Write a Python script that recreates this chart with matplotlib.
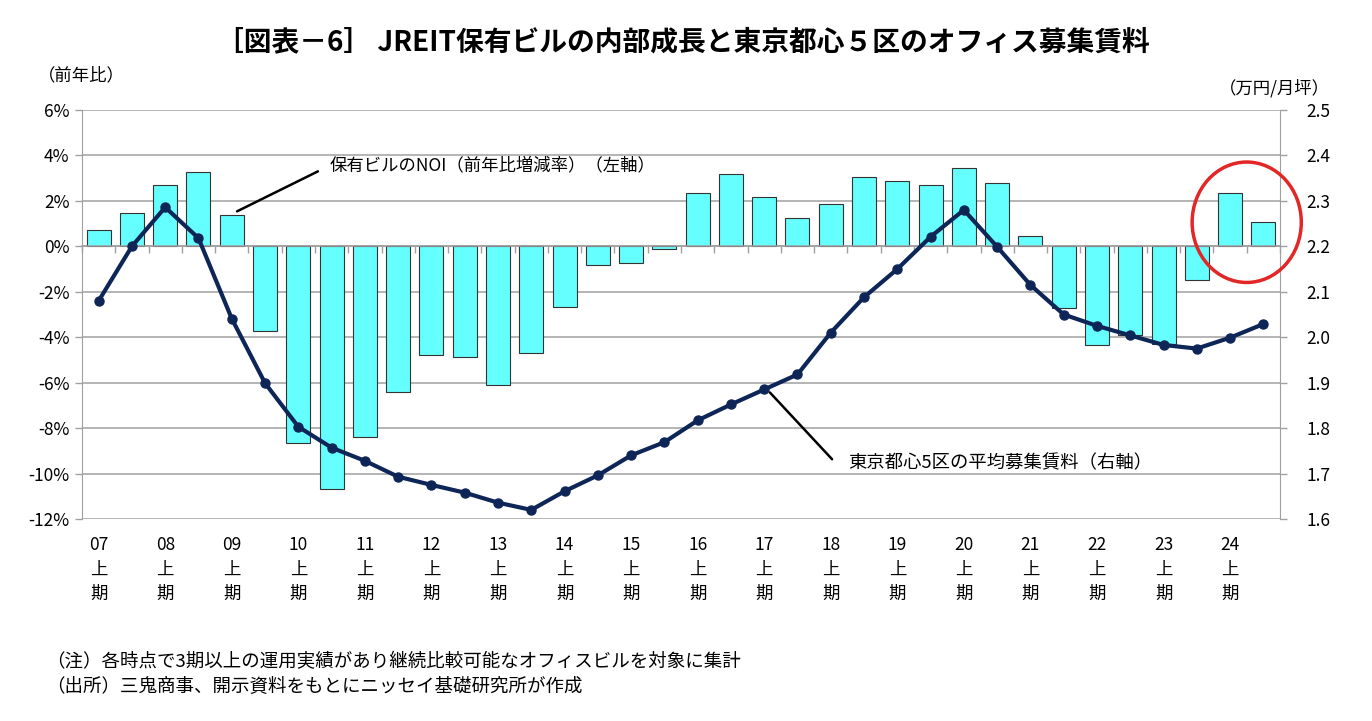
import numpy as np
import matplotlib
matplotlib.use("Agg")
import matplotlib.pyplot as plt
from matplotlib.patches import Ellipse
from matplotlib.transforms import blended_transform_factory

plt.rcParams['font.family'] = ['Noto Sans CJK JP', 'DejaVu Sans']

# Data
years = ["07", "08", "09", "10", "11", "12", "13", "14", "15",
         "16", "17", "18", "19", "20", "21", "22", "23", "24"]
halves = ["上", "下"]
periods = [y + h for y in years for h in halves]

# NOI growth of JREIT-held buildings, % YoY (left axis)
noi_growth = [0.7, 1.45, 2.7, 3.26, 1.37, -3.74, -8.65, -10.7, -8.4, -6.4,
              -4.8, -4.87, -6.1, -4.68, -2.65, -0.8, -0.75, -0.1, 2.33, 3.2,
              2.17, 1.26, 1.85, 3.04, 2.88, 2.68, 3.43, 2.77, 0.45, -2.7,
              -4.35, -3.9, -4.3, -1.48, 2.34, 1.06]

# Average asking rent, Tokyo 5 central wards, 10k yen / tsubo (right axis)
rent = [2.080, 2.200, 2.286, 2.218, 2.041, 1.899, 1.803, 1.757, 1.728, 1.693,
        1.675, 1.658, 1.636, 1.620, 1.661, 1.696, 1.740, 1.769, 1.817, 1.852,
        1.885, 1.918, 2.010, 2.088, 2.150, 2.221, 2.280, 2.199, 2.115, 2.050,
        2.025, 2.004, 1.983, 1.975, 1.999, 2.029]

left_ticks = [6, 4, 2, 0, -2, -4, -6, -8, -10, -12]
right_ticks = [2.5, 2.4, 2.3, 2.2, 2.1, 2.0, 1.9, 1.8, 1.7, 1.6]

title = "［図表－6］ JREIT保有ビルの内部成長と東京都心５区のオフィス募集賃料"
note1 = "（注）各時点で3期以上の運用実績があり継続比較可能なオフィスビルを対象に集計"
note2 = "（出所）三鬼商事、開示資料をもとにニッセイ基礎研究所が作成"

W, H = 1372, 721
grey = "#A0A0A0"

fig = plt.figure(figsize=(W / 100, H / 100), dpi=100)
fig.patch.set_facecolor("white")
ax = fig.add_axes([82 / W, 1 - 519 / H, (1280 - 82) / W, (519 - 110) / H])

x = np.arange(len(periods))
ax.bar(x, noi_growth, width=0.72, color="#66FFFF", edgecolor="#333333",
       linewidth=0.8, zorder=2)
ax.set_xlim(-0.5, len(periods) - 0.5)
ax.set_ylim(min(left_ticks), max(left_ticks))
ax.set_yticks(left_ticks)
ax.set_yticklabels([f"{v}%" for v in left_ticks], fontsize=12.5)
ax.grid(axis="y", color=grey, linewidth=1.1, zorder=0)
ax.set_axisbelow(True)

# category axis crosses at 0, ticks between categories
ax.set_xticks(np.arange(-0.5, len(periods), 1))
ax.set_xticklabels([])
ax.spines["bottom"].set_position(("data", 0))
ax.spines["bottom"].set_color(grey)
ax.spines["bottom"].set_linewidth(1.1)
ax.spines["top"].set_visible(False)
ax.spines["right"].set_visible(False)
ax.spines["left"].set_color(grey)
ax.tick_params(axis="x", direction="out", length=5, color=grey, width=1)
ax.tick_params(axis="y", direction="out", length=5, color=grey, width=1,
               pad=4, labelcolor="black")

ax2 = ax.twinx()
ax2.plot(x, rent, color="#0E2657", linewidth=3, marker="o", markersize=6.5,
         zorder=3)
ax2.set_ylim(min(right_ticks), max(right_ticks))
ax2.set_yticks(right_ticks)
ax2.set_yticklabels([f"{v:.1f}" for v in right_ticks], fontsize=12.5)
for s in ["top", "left", "bottom"]:
    ax2.spines[s].set_visible(False)
ax2.spines["right"].set_color(grey)
ax2.tick_params(axis="y", direction="out", length=5, color=grey, width=1,
                pad=14, labelcolor="black")

# x labels: year / 上 / 期 stacked, only for first halves
trans = blended_transform_factory(ax.transData, fig.transFigure)
for i, p in enumerate(periods):
    if p.endswith("上"):
        ax.text(i, 1 - 545 / H, p[:2], transform=trans, ha="center",
                va="center", fontsize=12.5)
        ax.text(i, 1 - 570 / H, "上", transform=trans, ha="center",
                va="center", fontsize=12.5)
        ax.text(i, 1 - 594 / H, "期", transform=trans, ha="center",
                va="center", fontsize=12.5)

# highlight the latest two periods
ax2.add_patch(Ellipse((34.5, 2.253), width=3.28, height=0.265, fill=False,
                      edgecolor="#E32626", linewidth=2.5, zorder=5,
                      clip_on=False))

# leader lines and series labels
ax.annotate("", xy=(4.16, 1.54), xytext=(6.59, 3.30),
            arrowprops=dict(arrowstyle="-", color="black", lw=1.8,
                            shrinkA=0, shrinkB=0))
ax.text(6.95, 3.56, "保有ビルのNOI（前年比増減率）（左軸）", ha="left",
        va="center", fontsize=12.5)
ax.annotate("", xy=(20.17, -6.43), xytext=(22.04, -9.37),
            arrowprops=dict(arrowstyle="-", color="black", lw=1.8,
                            shrinkA=0, shrinkB=0))
ax.text(22.52, -9.55, "東京都心5区の平均募集賃料（右軸）", ha="left",
        va="center", fontsize=13.2)

fig.text(683 / W, 1 - 42 / H, title, ha="center", va="center",
         fontsize=20, fontweight="bold")
fig.text(38 / W, 1 - 75 / H, "（前年比）", ha="left", va="center",
         fontsize=12.5)
fig.text(1330 / W, 1 - 88 / H, "（万円/月坪）", ha="right", va="center",
         fontsize=12.5)
fig.text(46 / W, 1 - 662 / H, note1, ha="left", va="center", fontsize=13.3)
fig.text(46 / W, 1 - 687 / H, note2, ha="left", va="center", fontsize=13.3)

fig.savefig("out.png", dpi=100, facecolor="white")
